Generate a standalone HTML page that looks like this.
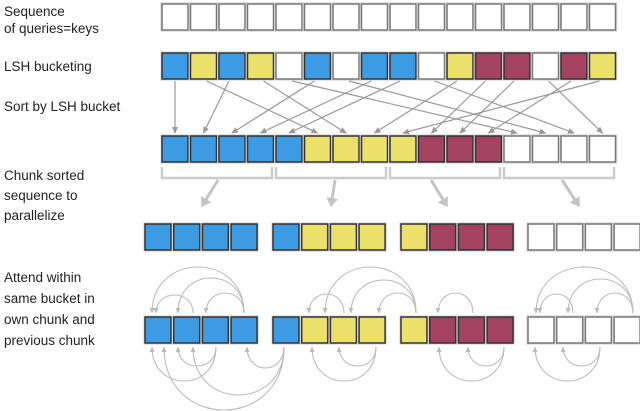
<!DOCTYPE html>
<html><head><meta charset="utf-8"><style>
body{margin:0;background:#fff;width:640px;height:411px;overflow:hidden}
svg{display:block}
text{font-family:"Liberation Sans",sans-serif;font-size:13.5px;fill:#222}
</style></head><body>
<svg id="s" width="640" height="411" viewBox="0 0 640 411" xmlns="http://www.w3.org/2000/svg">
<defs>
<marker id="a" markerWidth="8" markerHeight="8" refX="6" refY="4" orient="auto" markerUnits="userSpaceOnUse"><path d="M0,1 L7,4 L0,7 Z" fill="#999"/></marker>
<marker id="b" markerWidth="6" markerHeight="6" refX="5" refY="3" orient="auto" markerUnits="userSpaceOnUse"><path d="M0,0.5 L5.5,3 L0,5.5 Z" fill="#bbb"/></marker>
<marker id="c" markerWidth="12" markerHeight="12" refX="8" refY="6" orient="auto" markerUnits="userSpaceOnUse"><path d="M0,0 L9,6 L0,12 Z" fill="#c4c4c4"/></marker>
</defs>
<text x="4" y="16">Sequence</text>
<text x="4" y="33">of queries=keys</text>
<text x="4" y="71">LSH bucketing</text>
<text x="4" y="111">Sort by LSH bucket</text>
<text x="4" y="180">Chunk sorted</text>
<text x="4" y="200">sequence to</text>
<text x="4" y="220">parallelize</text>
<text x="4" y="282">Attend within</text>
<text x="4" y="303">same bucket in</text>
<text x="4" y="324">own chunk and</text>
<text x="4" y="345">previous chunk</text>
<g id="g"></g>
</svg>
<script>
var g=document.getElementById('g'),NS="http://www.w3.org/2000/svg";
function el(t,a){var e=document.createElementNS(NS,t);for(var k in a)e.setAttribute(k,a[k]);g.appendChild(e);return e;}
var C={B:'#3d9be3',Y:'#ebe06a',M:'#a34360',W:'#fff'};
function box(x,y,c){el('rect',{x:x-1,y:y-1,width:28,height:28,fill:'none',stroke:'#ddd','stroke-width':1.5});
el('rect',{x:x,y:y,width:26,height:26,fill:C[c],stroke:c=='W'?'#777':'#333','stroke-width':1.5});}
var P=28.5,X0=162;
for(var i=0;i<16;i++)box(X0+i*P,4,'W');
var r2="BYBYWBWBBWYMMWMY";
for(i=0;i<16;i++)box(X0+i*P,53,r2[i]);
var r3="BBBBBYYYYMMMWWWW";
for(i=0;i<16;i++)box(X0+i*P,136,r3[i]);
// mapping
var order=[];['B','Y','M','W'].forEach(function(c){for(var j=0;j<16;j++)if(r2[j]==c)order.push(j);});
for(i=0;i<16;i++){var s=order[i];
el('line',{x1:X0+s*P+13+(i==s?0:(i>s?3:-3)),y1:81,x2:X0+i*P+13,y2:133,stroke:'#999','stroke-width':1.2,'marker-end':'url(#a)'});}
// brackets
for(var k=0;k<4;k++){var bx=X0+k*4*P,ex=bx+4*P-4;
el('path',{d:'M'+bx+' 167 V178 H'+ex+' V167',fill:'none',stroke:'#ccc','stroke-width':2.5});}
[[218,180,202,206],[335,180,331,206],[431,180,447,206],[562,180,579,206]].forEach(function(a){
el('line',{x1:a[0],y1:a[1],x2:a[2],y2:a[3],stroke:'#c4c4c4','stroke-width':3,'marker-end':'url(#c)'});});
var chunks=[[145,"BBBB"],[273,"BYYY"],[401,"YMMM"],[528,"WWWW"]];
chunks.forEach(function(c){for(var j=0;j<4;j++){box(c[0]+j*28.7,224,c[1][j]);box(c[0]+j*28.7,317,c[1][j]);}});
function arc(x1,x2,base,peak){var cy=base+(peak-base)/0.75;
el('path',{d:'M'+x1+' '+base+' C'+x1+' '+cy+' '+x2+' '+cy+' '+x2+' '+base,fill:'none',stroke:'#bbb','stroke-width':1.1,'marker-end':'url(#b)'});}
// top arcs
[[244,152,267],[244,178,278],[193,156,295],[244,206,293],
 [416,325,267],[416,379,293],[344,309,294],[416,351,280],
 [473,438,293],
 [633,536,267],[633,568,279],[573,540,294],[633,597,293]].forEach(function(a){arc(a[0],a[1],313,a[2]);});
// bottom arcs
[[216,178,366],[216,152,381],[284,193,395],[284,164,410],[284,247,368],
 [376,312,381],[376,339,366],[504,439,381],[504,468,366],[600,535,381],[600,563,366]].forEach(function(a){arc(a[0],a[1],347,a[2]);});
</script>
</body></html>
